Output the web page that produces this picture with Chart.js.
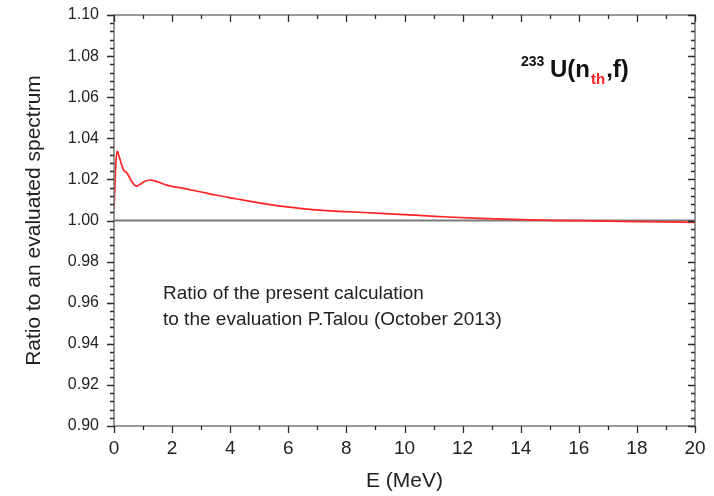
<!DOCTYPE html>
<html lang="en">
<head>
  <meta charset="UTF-8" />
  <title>233U(n_th,f) spectrum ratio</title>
  <script src="https://cdn.jsdelivr.net/npm/chart.js"></script>
  <style>
    * { margin: 0; padding: 0; box-sizing: border-box; }
    body { background: #fff; width: 714px; height: 496px; overflow: hidden; }
    canvas { display: block; }
  </style>
</head>
<body>
<canvas id="ratioChart" width="714" height="496"></canvas>
<script>
  // Ratio of calculated PFNS to evaluated spectrum
  const energy = [0.00, 0.03, 0.06, 0.11, 0.18, 0.26, 0.32, 0.38, 0.44, 0.55, 0.65, 0.76, 0.90, 1.05,
                  1.22, 1.40, 1.81, 2.40, 2.96, 3.50, 4.11, 4.70, 5.26, 5.80, 6.40, 7.20, 8.00, 9.16,
                  10.5, 11.5, 12.6, 14.0, 15.0, 16.0, 17.0, 18.0, 19.0, 20.0];
  const ratio  = [1.0050, 1.0160, 1.0270, 1.0338, 1.0310, 1.0272, 1.0249, 1.0238, 1.0232, 1.0205, 1.0182, 1.0167, 1.0176, 1.0190,
                  1.0197, 1.0193, 1.0172, 1.0156, 1.0140, 1.0124, 1.0108, 1.0093, 1.0080, 1.0069, 1.0059, 1.0049, 1.0043, 1.0035,
                  1.0025, 1.0017, 1.0010, 1.0004, 1.0001, 0.9999, 0.9997, 0.9995, 0.9993, 0.9991];

  // unity reference line
  const refEnergy = [0, 20];
  const refRatio = [1, 1];

  const noteLines = ["Ratio of the present calculation", "to the evaluation P.Talou (October 2013)"];

  const FONT = "'Liberation Sans', Arial, sans-serif";
  const toPts = (xs, ys) => xs.map((x, i) => ({ x, y: ys[i] }));

  // frame on all four sides with major/minor ticks
  const framePlugin = {
    id: "frame",
    afterDatasetsDraw(chart) {
      const { ctx, chartArea: a, scales: { x, y } } = chart;
      ctx.save();
      ctx.strokeStyle = "#808080";
      ctx.lineWidth = 1.6;
      ctx.strokeRect(a.left, a.top, a.right - a.left, a.bottom - a.top);

      ctx.strokeStyle = "#2a2a2a";
      ctx.lineWidth = 1.3;
      ctx.beginPath();
      for (let i = 0; i <= 50; i++) {
        const v = 0.9 + i * 0.004;
        const py = Math.round(y.getPixelForValue(v)) + 0.5;
        const len = i % 5 === 0 ? 7 : 4;
        ctx.moveTo(a.left - len, py); ctx.lineTo(a.left, py);
        ctx.moveTo(a.right - len, py); ctx.lineTo(a.right, py);
      }
      for (let e = 0; e <= 20; e++) {
        const px = Math.round(x.getPixelForValue(e)) + 0.5;
        const len = e % 2 === 0 ? 7 : 4;
        ctx.moveTo(px, a.bottom); ctx.lineTo(px, a.bottom + len);
        ctx.moveTo(px, a.top); ctx.lineTo(px, a.top + len);
      }
      ctx.stroke();
      ctx.restore();
    }
  };

  // reaction label and note text
  const labelPlugin = {
    id: "labels",
    afterDraw(chart) {
      const { ctx } = chart;
      ctx.save();
      ctx.textBaseline = "alphabetic";
      ctx.fillStyle = "#111";
      ctx.font = `bold 14px ${FONT}`;
      ctx.fillText("233", 521, 66);
      ctx.font = `bold 24px ${FONT}`;
      ctx.fillText("U(n", 550, 77);
      const w = ctx.measureText("U(n").width;
      ctx.fillStyle = "#ff2020";
      ctx.font = `bold 15px ${FONT}`;
      ctx.fillText("th", 550 + w + 1, 84);
      const w2 = ctx.measureText("th").width;
      ctx.fillStyle = "#111";
      ctx.font = `bold 24px ${FONT}`;
      ctx.fillText(",f)", 550 + w + w2 + 2, 77);

      ctx.font = `19px ${FONT}`;
      ctx.fillStyle = "#222";
      ctx.textBaseline = "middle";
      noteLines.forEach((t, i) => ctx.fillText(t, 163, 294 + i * 26));
      ctx.restore();
    }
  };

  new Chart(document.getElementById("ratioChart"), {
    type: "scatter",
    data: {
      datasets: [
        {
          label: "ratio",
          data: toPts(energy, ratio),
          showLine: true,
          borderColor: "#ff2525",
          borderWidth: 1.7,
          pointRadius: 0,
          cubicInterpolationMode: "monotone"
        },
        {
          label: "unity",
          data: toPts(refEnergy, refRatio),
          showLine: true,
          borderColor: "#7a7a7a",
          borderWidth: 2,
          pointRadius: 0
        }
      ]
    },
    options: {
      responsive: false,
      animation: false,
      devicePixelRatio: 1,
      layout: { padding: { top: 15, right: 19, left: 0, bottom: 0 } },
      plugins: { legend: { display: false }, tooltip: { enabled: false } },
      scales: {
        x: {
          type: "linear",
          min: 0, max: 20,
          grid: { display: false, drawTicks: false },
          border: { display: false },
          afterFit: s => { s.height = 70; s.paddingLeft = 0; s.paddingRight = 0; },
          ticks: {
            stepSize: 2,
            autoSkip: false,
            padding: 11,
            color: "#222",
            font: { family: FONT, size: 19 },
            maxRotation: 0
          },
          title: {
            display: true,
            text: "E (MeV)",
            color: "#222",
            font: { family: FONT, size: 21 },
            padding: { top: 0, bottom: 2 }
          }
        },
        y: {
          min: 0.9, max: 1.1,
          grid: { display: false, drawTicks: false },
          border: { display: false },
          afterFit: s => { s.width = 114; s.paddingTop = 0; s.paddingBottom = 0; },
          afterBuildTicks: s => {
            const t = [];
            for (let i = 0; i <= 10; i++) t.push({ value: 0.9 + i * 0.02 });
            s.ticks = t;
          },
          ticks: {
            autoSkip: false,
            padding: 15,
            color: "#222",
            font: { family: FONT, size: 16 },
            callback: v => v.toFixed(2)
          },
          title: {
            display: true,
            text: "Ratio to an evaluated spectrum",
            color: "#222",
            font: { family: FONT, size: 21 },
            padding: { top: 22, bottom: 0 }
          }
        }
      }
    },
    plugins: [framePlugin, labelPlugin]
  });
</script>
</body>
</html>
